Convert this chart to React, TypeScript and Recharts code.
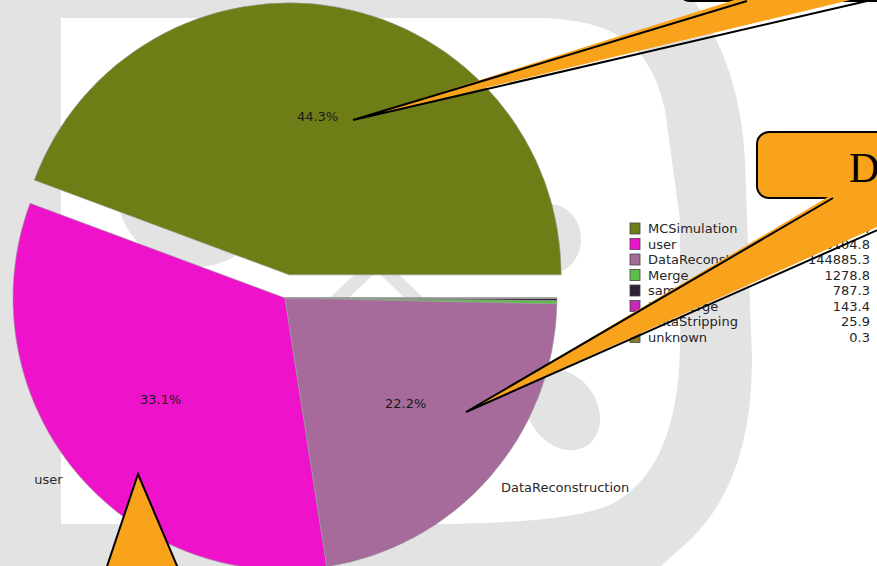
import { PieChart, Pie, Cell, Legend } from "recharts";

// CPU usage by job type (values as listed in the plot legend)
const jobTypes = [
  "MCSimulation",
  "user",
  "DataReconstruction",
  "Merge",
  "sam",
  "UserMerge",
  "DataStripping",
  "unknown",
];
const cpuValues = [289316.4, 216104.8, 144885.3, 1278.8, 787.3, 143.4, 25.9, 0.3];
const sliceColors = [
  "#6E7D15",
  "#EE13CA",
  "#A66A9B",
  "#5DBE47",
  "#2E2235",
  "#C62BB5",
  "#3F6FC0",
  "#8C7C2A",
];
const namedSlices = ["MCSimulation", "user", "DataReconstruction"];
const explodedSlice = "MCSimulation";

const W = 877;
const H = 566;
const CX = 285;
const CY = 298;
const R = 272;
const EXPLODE = 23.5;
const RAD = Math.PI / 180;

const GRAY = "#E3E3E3";
const ORANGE = "#F9A31C";
const FONT = "'DejaVu Sans', Verdana, sans-serif";

const data = jobTypes.map((name, i) => ({ name, value: cpuValues[i] }));
const total = cpuValues.reduce((a, b) => a + b, 0);
const explodedIdx = jobTypes.indexOf(explodedSlice);
const startShare = cpuValues.slice(0, explodedIdx).reduce((a, b) => a + b, 0);
const explodeMid = ((startShare + cpuValues[explodedIdx] / 2) / total) * 360;
const ECX = CX + EXPLODE * Math.cos(explodeMid * RAD);
const ECY = CY - EXPLODE * Math.sin(explodeMid * RAD);

function makeLabel(show: (i: number) => boolean) {
  return (p: any) => {
    if (!show(p.index)) return null;
    const { cx, cy, midAngle, outerRadius, percent, index } = p;
    const c = Math.cos(-midAngle * RAD);
    const s = Math.sin(-midAngle * RAD);
    const inner = outerRadius * 0.59;
    const outer = outerRadius * 1.055;
    return (
      <g key={`lbl-${index}`}>
        <text
          x={cx + inner * c}
          y={cy + inner * s}
          textAnchor="middle"
          dominantBaseline="central"
          fontFamily={FONT}
          fontSize={13}
          fill="#1a1a1a"
        >
          {(percent * 100).toFixed(1)}%
        </text>
        {namedSlices.includes(jobTypes[index]) && (
          <text
            x={cx + outer * c}
            y={cy + outer * s}
            textAnchor={c >= 0 ? "start" : "end"}
            dominantBaseline="central"
            fontFamily={FONT}
            fontSize={13}
            fill="#2a2a2a"
          >
            {jobTypes[index]}
          </text>
        )}
      </g>
    );
  };
}

function JobLegend() {
  const top = 218;
  return (
    <svg width={257} height={130} style={{ display: "block" }}>
      {jobTypes.map((name, i) => {
        const y = 228.5 + i * 15.5 - top;
        return (
          <g key={name}>
            <rect
              x={10}
              y={y - 5.5}
              width={10}
              height={11}
              fill={sliceColors[i]}
              stroke="#444"
              strokeWidth={0.8}
            />
            <text x={28} y={y} dominantBaseline="central" fontFamily={FONT} fontSize={13} fill="#262626">
              {name}
            </text>
            <text
              x={250}
              y={y}
              textAnchor="end"
              dominantBaseline="central"
              fontFamily={FONT}
              fontSize={13}
              fill="#262626"
            >
              {cpuValues[i].toFixed(1)}
            </text>
          </g>
        );
      })}
    </svg>
  );
}

function Watermark() {
  return (
    <svg width={W} height={H} style={{ position: "absolute", left: 0, top: 0 }}>
      <rect x={0} y={0} width={W} height={H} fill="#fff" />
      <path
        fillRule="evenodd"
        fill={GRAY}
        d="M -10 -10 L 686 -10 Q 740 60 745 160 L 752 360 Q 752 480 690 540 L 650 576 L -10 576 Z
           M 61 18 L 540 18 C 610 20 650 40 665 110 L 680 220 L 680 340 C 680 420 660 480 610 505 C 570 520 520 522 450 524 L 61 524 Z"
      />
      <ellipse cx={195} cy={190} rx={78} ry={77} fill={GRAY} />
      <ellipse cx={550} cy={239} rx={31} ry={35} fill={GRAY} />
      <ellipse cx={563} cy={410} rx={34} ry={43} fill={GRAY} transform="rotate(-35 563 410)" />
      <polyline
        points="300,335 377,262 452,335"
        fill="none"
        stroke={GRAY}
        strokeWidth={13}
      />
    </svg>
  );
}

function Callouts() {
  return (
    <svg
      width={W}
      height={H}
      style={{ position: "absolute", left: 0, top: 0, pointerEvents: "none" }}
    >
      {/* top bubble */}
      <rect x={678} y={-80} width={300} height={81} rx={12} fill={ORANGE} stroke="#000" strokeWidth={2} />
      <polygon points="747,-4 353,120 867,-4" fill={ORANGE} />
      <polyline points="747,1 353,120 867,1" fill="none" stroke="#000" strokeWidth={2} strokeLinejoin="miter" />
      {/* right bubble */}
      <rect x={757} y={132} width={260} height={66} rx={12} fill={ORANGE} stroke="#000" strokeWidth={2} />
      <text x={849} y={182} fontFamily="'Liberation Serif', 'Times New Roman', serif" fontSize={42} fill="#000">
        DataReconstruction
      </text>
      <polygon points="833,194 466,412 950,194" fill={ORANGE} />
      <polyline points="833,198 466,412 950,198" fill="none" stroke="#000" strokeWidth={2} />
      {/* bottom bubble */}
      <polygon points="89,620 138,474 200,620" fill={ORANGE} stroke="#000" strokeWidth={2} />
    </svg>
  );
}

export default function App() {
  return (
    <div
      style={{
        position: "absolute",
        left: 0,
        top: 0,
        width: W,
        height: H,
        overflow: "hidden",
        background: "#fff",
      }}
    >
      <Watermark />
      <div style={{ position: "absolute", left: 0, top: 0 }}>
        <PieChart width={W} height={H} margin={{ top: 0, right: 0, bottom: 0, left: 0 }}>
          <Pie
            data={data}
            dataKey="value"
            nameKey="name"
            cx={CX}
            cy={CY}
            outerRadius={R}
            startAngle={0}
            endAngle={360}
            isAnimationActive={false}
            labelLine={false}
            label={makeLabel((i) => i !== explodedIdx && i < 3)}
          >
            {data.map((d, i) => (
              <Cell
                key={d.name}
                fill={i === explodedIdx ? "transparent" : sliceColors[i]}
                stroke={i === explodedIdx ? "none" : "#9a9a9a"}
                strokeWidth={0.6}
              />
            ))}
          </Pie>
          <Pie
            data={data}
            dataKey="value"
            nameKey="name"
            cx={ECX}
            cy={ECY}
            outerRadius={R}
            startAngle={0}
            endAngle={360}
            isAnimationActive={false}
            labelLine={false}
            label={makeLabel((i) => i === explodedIdx)}
          >
            {data.map((d, i) => (
              <Cell
                key={d.name}
                fill={i === explodedIdx ? sliceColors[i] : "transparent"}
                stroke={i === explodedIdx ? "#9a9a9a" : "none"}
                strokeWidth={0.6}
              />
            ))}
          </Pie>
          <Legend
            layout="horizontal"
            verticalAlign="middle"
            align="center"
            content={() => <JobLegend />}
            wrapperStyle={{ left: 620, top: 218, width: 257, height: 130, bottom: "auto", right: "auto" }}
          />
        </PieChart>
      </div>
      <Callouts />
    </div>
  );
}
